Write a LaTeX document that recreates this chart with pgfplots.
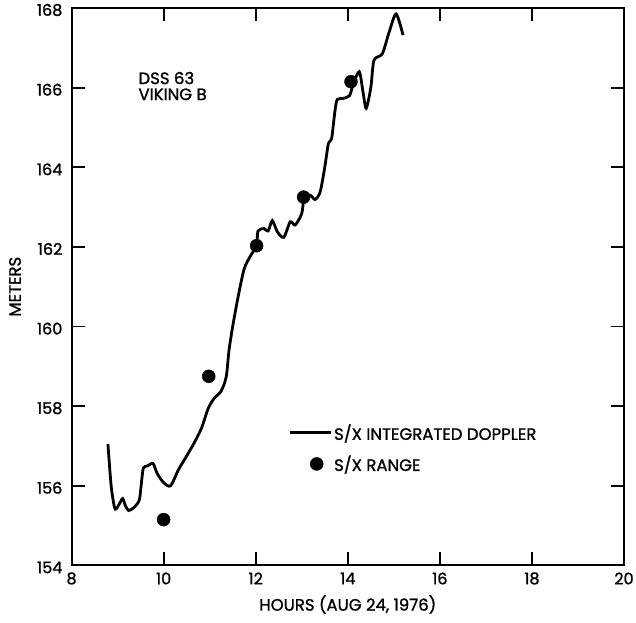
\documentclass[border=0pt]{standalone}
\usepackage{pgfplots}
\pgfplotsset{compat=1.18}
\usepackage{fontspec}
\setmainfont{Poppins}[RawFeature={embolden=1.2}]
\pgfplotsset{
  lineleg/.style={legend image code/.code={\draw[##1] (0pt,0pt) -- (41pt,0pt);}},
  dotleg/.style={legend image code/.code={%
    \draw[mark repeat=2, mark phase=2, ##1] plot coordinates {(13pt,0pt)(27pt,0pt)(41pt,0pt)};}},
}
\begin{document}
\begin{tikzpicture}
\begin{axis}[
  name=ax,
  scale only axis,
  width=552pt, height=557pt,
  xmin=8, xmax=20, ymin=154, ymax=168,
  xtick={8,10,...,20}, ytick={154,156,...,168},
  tick align=inside,
  major tick length=13pt,
  every tick/.style={line width=1.8pt, black},
  axis line style={line width=2pt},
  tick label style={font=\fontsize{16}{18}\selectfont},
  xticklabel style={anchor=center, yshift=-13pt},
  yticklabel style={anchor=east, inner sep=0pt, xshift=-9pt, yshift=-2pt},
  /pgf/number format/assume math mode=true,
  xlabel={HOURS (AUG 24, 1976)},
  ylabel={METERS},
  label style={font=\fontsize{16.5}{18}\selectfont},
  xlabel style={at={(axis description cs:0.5,-0.070)}, anchor=center},
  ylabel style={at={(axis description cs:-0.1024,0.5)}, anchor=center},
  legend style={draw=none, fill=none, inner sep=0pt, at={(0.392,0.210)}, anchor=west,
    font=\fontsize{16.5}{18}\selectfont, row sep=10pt, cells={anchor=west}},
]
\addplot[black, line width=2.8pt, smooth, tension=0.45, lineleg] coordinates {
(8.79,157.05)(8.86,156.0)(8.93,155.47)(8.97,155.42)(9.04,155.55)(9.11,155.68)
(9.17,155.5)(9.24,155.38)(9.35,155.45)(9.47,155.64)(9.52,156.1)(9.56,156.45)
(9.65,156.5)(9.77,156.56)(9.86,156.31)(10.0,156.08)(10.15,156.0)(10.32,156.4)
(10.47,156.69)(10.65,157.05)(10.82,157.44)(10.97,157.95)(11.1,158.2)(11.25,158.38)
(11.36,158.74)(11.42,159.4)(11.5,160.0)(11.61,160.7)(11.75,161.45)(11.9,161.8)
(12.02,162.03)(12.05,162.4)(12.18,162.46)(12.27,162.4)(12.36,162.66)(12.47,162.38)
(12.61,162.24)(12.75,162.63)(12.86,162.55)(13.0,162.84)(13.05,163.2)(13.18,163.3)
(13.29,163.19)(13.4,163.38)(13.5,164.0)(13.58,164.6)(13.65,164.73)(13.72,165.4)
(13.77,165.7)(13.9,165.73)(14.04,165.8)(14.12,166.1)(14.25,166.4)(14.33,165.9)
(14.4,165.48)(14.5,166.0)(14.57,166.69)(14.75,166.85)(14.9,167.4)(15.05,167.85)
(15.2,167.32)};
\addlegendentry{S/X INTEGRATED DOPPLER}
\addplot[only marks, mark=*, mark size=6.5pt, black, dotleg] coordinates {
(10.0,155.15)(10.98,158.75)(12.02,162.03)(13.04,163.25)(14.07,166.15)};
\addlegendentry{S/X RANGE}
\node[anchor=north west, align=left, font=\fontsize{16.5}{16}\selectfont, inner sep=0pt]
  at (axis cs:9.45,166.4) {DSS 63\\VIKING B};
\end{axis}
\pgfresetboundingbox
\path[use as bounding box] ([shift={(-71.5pt,-57pt)}]ax.south west)
  rectangle ([shift={(12pt,8pt)}]ax.north east);
\end{tikzpicture}
\end{document}
